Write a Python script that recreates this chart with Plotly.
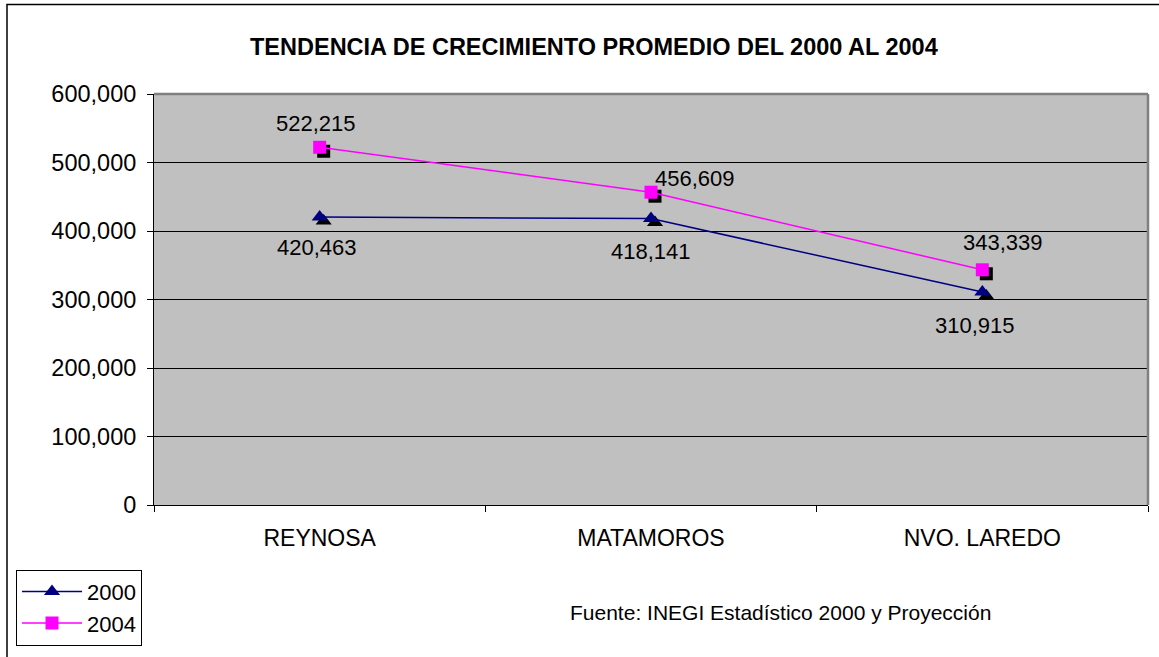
import plotly.graph_objects as go

categories = ["REYNOSA", "MATAMOROS", "NVO. LAREDO"]
values_2000 = [420463, 418141, 310915]
values_2004 = [522215, 456609, 343339]
y_ticks = [0, 100000, 200000, 300000, 400000, 500000, 600000]
y_tick_labels = ["0", "100,000", "200,000", "300,000", "400,000", "500,000", "600,000"]
title_text = "TENDENCIA DE CRECIMIENTO PROMEDIO DEL 2000 AL 2004"
source_text = "Fuente: INEGI Estadístico 2000 y Proyección"

W, H = 1159, 657
L, R, T, B = 154, 1148, 94, 507
pw, ph = R - L, B - T

def px_x(p):
    return (p - L) / pw

def px_y(p):
    return (B - p) / ph

FONT = "Liberation Sans, Arial, sans-serif"
FS = 22
NAVY = "#000080"
MAG = "#FF00FF"

fig = go.Figure()

# shadows on main axes (drawn below), main series on overlay axes (drawn on top)
sx = 4 / (pw / 3)
sy = 4 / (ph / 600000)

fig.add_trace(go.Scatter(x=categories, y=values_2000, mode="markers",
                         marker=dict(symbol="triangle-up", size=14, color="black"),
                         xaxis="x", yaxis="y", showlegend=False, hoverinfo="skip"))
fig.add_trace(go.Scatter(x=categories, y=values_2004, mode="markers",
                         marker=dict(symbol="square", size=13, color="black"),
                         xaxis="x", yaxis="y", showlegend=False, hoverinfo="skip"))

fig.add_trace(go.Scatter(x=categories, y=values_2000, mode="lines+markers", name="2000",
                         line=dict(color=NAVY, width=1.5),
                         marker=dict(symbol="triangle-up", size=14, color=NAVY),
                         xaxis="x2", yaxis="y2"))
fig.add_trace(go.Scatter(x=categories, y=values_2004, mode="lines+markers", name="2004",
                         line=dict(color=MAG, width=1.5),
                         marker=dict(symbol="square", size=13, color=MAG),
                         xaxis="x2", yaxis="y2"))

def fmt(v):
    return f"{v:,}"

ann = []
offs_2004 = [(-4, 24), (44, 14), (21, 27)]
for c, v, (dx, dy) in zip(categories, values_2004, offs_2004):
    ann.append(dict(x=c, y=v, xref="x2", yref="y2", text=fmt(v), showarrow=False, xshift=dx, yshift=dy,
                    xanchor="center", yanchor="middle",
                    font=dict(family=FONT, size=FS, color="black")))
offs_2000 = [(-3, -31), (0, -33), (-7, -33)]
for c, v, (dx, dy) in zip(categories, values_2000, offs_2000):
    ann.append(dict(x=c, y=v, xref="x2", yref="y2", text=fmt(v), showarrow=False, xshift=dx, yshift=dy,
                    xanchor="center", yanchor="middle",
                    font=dict(family=FONT, size=FS, color="black")))

ann.append(dict(xref="paper", yref="paper", x=px_x(594), y=px_y(47), text="<b>" + title_text + "</b>",
                xanchor="center", yanchor="middle",
                showarrow=False, font=dict(family=FONT, size=23.5, color="black")))
ann.append(dict(xref="paper", yref="paper", x=px_x(780), y=px_y(615), text=source_text,
                xanchor="center", yanchor="middle",
                showarrow=False, font=dict(family=FONT, size=21, color="black")))

shapes = [
    dict(type="rect", xref="paper", yref="paper", x0=px_x(7), y0=px_y(700), x1=px_x(1200), y1=px_y(4),
         line=dict(color="black", width=1.5), fillcolor="rgba(0,0,0,0)", layer="below"),
    dict(type="rect", xref="paper", yref="paper", x0=0, y0=0, x1=1, y1=1,
         line=dict(width=0), fillcolor="#C0C0C0", layer="below"),
    dict(type="line", xref="paper", yref="paper", x0=0, y0=1, x1=1, y1=1,
         line=dict(color="#808080", width=2.5), layer="above"),
    dict(type="line", xref="paper", yref="paper", x0=1, y0=0, x1=1, y1=1,
         line=dict(color="#808080", width=2.5), layer="above"),
]

fig.update_layout(
    width=W, height=H,
    margin=dict(l=L, r=W - R, t=T, b=H - B),
    paper_bgcolor="white", plot_bgcolor="rgba(0,0,0,0)",
    font=dict(family=FONT, size=FS, color="black"),
    showlegend=True,
    legend=dict(x=px_x(16), y=px_y(572), xanchor="left", yanchor="top",
                bgcolor="white", bordercolor="black", borderwidth=1,
                font=dict(family=FONT, size=FS, color="black"),
                tracegroupgap=0, itemwidth=60),
    xaxis=dict(type="category", range=[-0.5 - sx, 2.5 - sx], showgrid=False, zeroline=False,
               showline=False, showticklabels=False, ticks=""),
    yaxis=dict(range=[0 + sy, 600000 + sy], showgrid=False, zeroline=False,
               showline=False, showticklabels=False, ticks=""),
    xaxis2=dict(type="category", overlaying="x", range=[-0.5, 2.5], showgrid=False, zeroline=False,
                showline=True, linecolor="black", linewidth=1, anchor="y2", side="bottom",
                ticks="outside", tickson="boundaries", ticklen=6, tickcolor="black",
                ticklabelstandoff=12, tickfont=dict(size=23)),
    yaxis2=dict(overlaying="y", range=[0, 600000], tickvals=y_ticks, ticktext=y_tick_labels,
                showgrid=True, gridcolor="black", gridwidth=1, zeroline=False, anchor="x2", side="left",
                showline=True, linecolor="black", linewidth=1,
                ticks="outside", ticklen=6, tickcolor="black", ticklabelstandoff=6,
                tickfont=dict(size=23.5)),
    annotations=ann,
    shapes=shapes,
)

fig.write_html("out.html", config={"displayModeBar": False},
               post_script="document.body.style.margin='0';")
